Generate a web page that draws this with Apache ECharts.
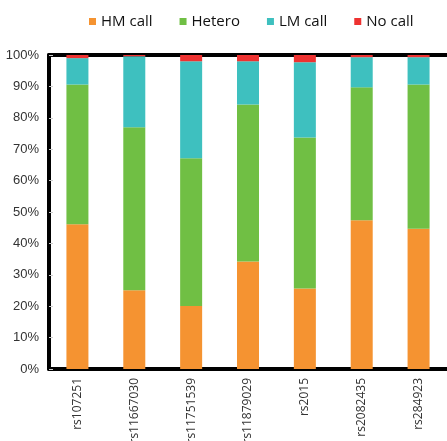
<!DOCTYPE html>
<html><head><meta charset="utf-8">
<script src="https://cdn.jsdelivr.net/npm/echarts@6/dist/echarts.min.js"></script>
<style>html,body{margin:0;padding:0;background:#fff}#c{width:447px;height:441px}</style>
</head><body><div id="c"></div>
<script>
const categories = ['rs107251','rs11667030','rs11751539','rs11879029','rs2015','rs2082435','rs284923'];
const hmCall = [46.1, 25.1, 20.1, 34.2, 25.6, 47.4, 44.7];
const hetero = [44.5, 51.9, 47.0, 50.0, 48.1, 42.3, 45.9];
const lmCall = [8.4, 22.6, 30.9, 13.8, 24.0, 9.6, 8.7];
const noCall = [1.0, 0.4, 2.0, 2.0, 2.3, 0.7, 0.7];
const yTicks = [0,10,20,30,40,50,60,70,80,90,100];

const chart = echarts.init(document.getElementById('c'), null, {renderer:'canvas'});
const mk = (name, data, color) => ({
  name, type:'bar', stack:'all', data, barWidth:22,
  itemStyle:{color}, emphasis:{disabled:true}
});
chart.setOption({
  animation:false,
  legend:{
    top:9, left:84, itemWidth:7, itemHeight:7, itemGap:27, icon:'rect',
    textStyle:{fontFamily:'Open Sans', fontSize:15, color:'#111'},
    data:['HM call','Hetero','LM call','No call']
  },
  grid:{left:49, right:0, top:55, bottom:72, containLabel:false, outerBoundsMode:'none'},
  xAxis:[{
    type:'category', data:categories, position:'bottom',
    axisLine:{lineStyle:{color:'#000', width:4}},
    axisTick:{show:false},
    axisLabel:{rotate:90, fontFamily:'Open Sans', fontSize:12, color:'#333', margin:9}
  },{
    type:'category', data:categories, position:'top',
    axisLine:{lineStyle:{color:'#000', width:4}},
    axisTick:{show:false}, axisLabel:{show:false}
  }],
  yAxis:{
    type:'value', min:0, max:100, interval:10,
    axisLine:{show:true, lineStyle:{color:'#000', width:4}},
    axisTick:{show:true, inside:true, length:4, lineStyle:{color:'#ccc', width:1}},
    splitLine:{show:false},
    axisLabel:{fontFamily:'Liberation Sans', fontSize:13, color:'#333', margin:10,
      formatter:v => yTicks.includes(v) ? v + '%' : ''}
  },
  series:[
    mk('HM call', hmCall, '#F59331'),
    mk('Hetero', hetero, '#70BF44'),
    mk('LM call', lmCall, '#3EC0BF'),
    mk('No call', noCall, '#EE3231')
  ]
});
</script></body></html>
